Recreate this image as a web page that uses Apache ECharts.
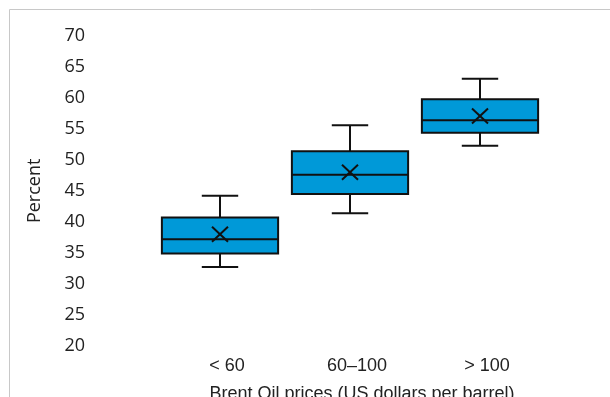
<!DOCTYPE html>
<html>
<head>
<meta charset="utf-8">
<script src="https://cdn.jsdelivr.net/npm/echarts@6/dist/echarts.min.js"></script>
<style>html,body{margin:0;padding:0;background:#fff;}#c{width:610px;height:397px;}</style>
</head>
<body>
<div id="c"></div>
<script>
var categories = ['< 60', '60\u2013100', '> 100'];
var whiskerLow = [32.7, 41.4, 52.3];
var q1 = [34.9, 44.5, 54.4];
var median = [37.2, 47.6, 56.4];
var q3 = [40.7, 51.4, 59.8];
var whiskerHigh = [44.2, 55.6, 63.1];
var mean = [38.0, 48.0, 57.1];
var yTicks = [20, 25, 30, 35, 40, 45, 50, 55, 60, 65, 70];

var data = categories.map(function (c, i) {
  return [i, whiskerLow[i], q1[i], median[i], q3[i], whiskerHigh[i], mean[i]];
});

var chart = echarts.init(document.getElementById('c'), null, { renderer: 'canvas' });

function renderItem(params, api) {
  var i = api.value(0);
  var band = api.size([1, 0])[0];
  var boxHalf = band * 0.447;
  var capHalf = band * 0.14;
  var pLow = api.coord([i, api.value(1)]);
  var pQ1 = api.coord([i, api.value(2)]);
  var pMed = api.coord([i, api.value(3)]);
  var pQ3 = api.coord([i, api.value(4)]);
  var pHigh = api.coord([i, api.value(5)]);
  var pMean = api.coord([i, api.value(6)]);
  var cx = pMed[0];
  var lineStyle = { stroke: '#111', lineWidth: 2 };
  return {
    type: 'group',
    children: [
      { type: 'line', shape: { x1: cx, y1: pHigh[1], x2: cx, y2: pQ3[1] }, style: lineStyle },
      { type: 'line', shape: { x1: cx, y1: pLow[1], x2: cx, y2: pQ1[1] }, style: lineStyle },
      { type: 'line', shape: { x1: cx - capHalf, y1: pHigh[1], x2: cx + capHalf, y2: pHigh[1] }, style: lineStyle },
      { type: 'line', shape: { x1: cx - capHalf, y1: pLow[1], x2: cx + capHalf, y2: pLow[1] }, style: lineStyle },
      { type: 'rect', shape: { x: cx - boxHalf, y: pQ3[1], width: boxHalf * 2, height: pQ1[1] - pQ3[1] },
        style: { fill: '#0099D8', stroke: '#111', lineWidth: 2 } },
      { type: 'line', shape: { x1: cx - boxHalf, y1: pMed[1], x2: cx + boxHalf, y2: pMed[1] }, style: lineStyle },
      { type: 'line', shape: { x1: pMean[0] - 8, y1: pMean[1] - 7.5, x2: pMean[0] + 8, y2: pMean[1] + 7.5 }, style: lineStyle },
      { type: 'line', shape: { x1: pMean[0] - 8, y1: pMean[1] + 7.5, x2: pMean[0] + 8, y2: pMean[1] - 7.5 }, style: lineStyle }
    ]
  };
}

chart.setOption({
  animation: false,
  backgroundColor: '#fff',
  grid: { left: 155, right: 65, top: 36, bottom: 51.3, containLabel: false, outerBoundsMode: 'none' },
  graphic: [{
    type: 'polyline',
    shape: { points: [[9.5, 400], [9.5, 9.5], [612, 9.5]] },
    style: { stroke: '#c8c8c8', lineWidth: 1, fill: null },
    silent: true
  }],
  xAxis: {
    type: 'category',
    data: categories,
    axisLine: { show: false },
    axisTick: { show: false },
    splitLine: { show: false },
    axisLabel: { fontFamily: 'Liberation Sans', fontSize: 18, color: '#222', margin: 11, padding: [0, 0, 0, 14] },
    name: 'Brent Oil prices (US dollars per barrel)',
    nameLocation: 'middle',
    nameGap: 39,
    nameTextStyle: { fontFamily: 'Liberation Sans', fontSize: 18, color: '#222', padding: [0, 0, 0, 24] }
  },
  yAxis: {
    type: 'value',
    min: yTicks[0],
    max: yTicks[yTicks.length - 1],
    interval: 5,
    axisLine: { show: false },
    axisTick: { show: false },
    splitLine: { show: false },
    axisLabel: { fontFamily: 'Open Sans', fontSize: 18, color: '#222', margin: 70 },
    name: 'Percent',
    nameLocation: 'middle',
    nameGap: 111,
    nameTextStyle: { fontFamily: 'Open Sans', fontSize: 18, color: '#222' }
  },
  series: [{
    type: 'custom',
    renderItem: renderItem,
    encode: { x: 0, y: [1, 2, 3, 4, 5, 6] },
    data: data
  }]
});
</script>
</body>
</html>
